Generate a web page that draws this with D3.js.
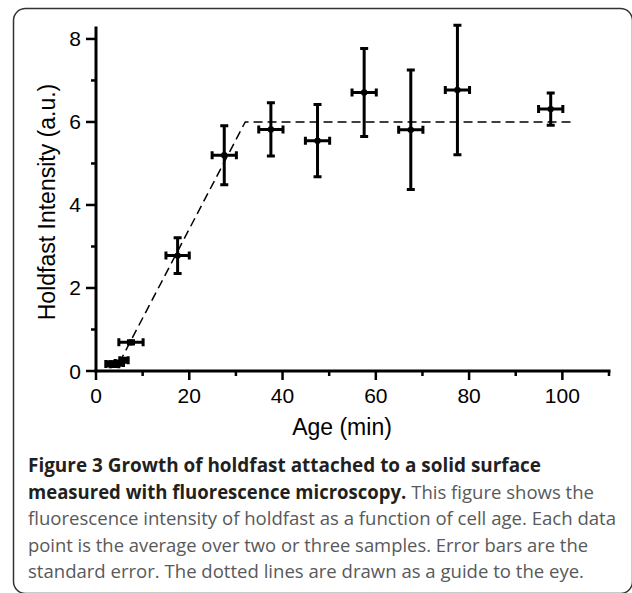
<!DOCTYPE html>
<html>
<head>
<meta charset="utf-8">
<script src="https://cdn.jsdelivr.net/npm/d3@7"></script>
<style>
  body { margin: 0; background: #fff; }
  svg { display: block; }
</style>
</head>
<body>
<script>
// age (min), intensity (a.u.), and their errors
const ages      = [3, 4, 5, 6, 7.5, 17.5, 27.5, 37.5, 47.5, 57.5, 67.5, 77.5, 97.5]
const intensity = [0.17, 0.16, 0.19, 0.26, 0.69, 2.78, 5.2, 5.82, 5.55, 6.71, 5.81, 6.77, 6.31]
const ageErr    = [0.9, 0.9, 0.9, 0.9, 2.6, 2.5, 2.6, 2.6, 2.6, 2.6, 2.6, 2.6, 2.6]
const intErr    = [0.05, 0.05, 0.05, 0.05, 0.04, 0.43, 0.71, 0.64, 0.87, 1.06, 1.44, 1.56, 0.39]

// dashed guide to the eye
const guideAge = [5, 32, 102]
const guideInt = [0.2, 6, 6]

const xTicks = [0, 20, 40, 60, 80, 100]
const xMinor = [10, 30, 50, 70, 90, 110]
const yTicks = [0, 2, 4, 6, 8]
const yMinor = [1, 3, 5, 7]

const captionLines = [
  [['Figure 3 Growth of holdfast attached to a solid surface', true]],
  [['measured with fluorescence microscopy.', true], [' This figure shows the', false]],
  [['fluorescence intensity of holdfast as a function of cell age. Each data', false]],
  [['point is the average over two or three samples. Error bars are the', false]],
  [['standard error. The dotted lines are drawn as a guide to the eye.', false]]
]
const captionEnds = [541, 594, 616, 588, 584]

const W = 632, H = 593
const svg = d3.select('body').append('svg')
  .attr('width', W)
  .attr('height', H)

// frame, cut off on the right and at the bottom
svg.append('rect')
  .attr('x', 13.5).attr('y', 8.5)
  .attr('width', 619).attr('height', 585)
  .attr('rx', 12)
  .attr('fill', 'none')
  .attr('stroke', '#333')
  .attr('stroke-width', 1.5)

const x = d3.scaleLinear().domain([0, 110]).range([96, 609])
const y = d3.scaleLinear().domain([0, 8.3]).range([371, 26.5])

const axisFont = '"Liberation Sans", Arial, sans-serif'

// axes
const gx = svg.append('g').attr('transform', 'translate(0,371)')
gx.append('line')
  .attr('x1', x(0) - 1.5).attr('x2', x(110) + 1.5)
  .attr('stroke', '#000').attr('stroke-width', 3)
gx.selectAll('line.major').data(xTicks).join('line')
  .attr('class', 'major')
  .attr('x1', d => x(d)).attr('x2', d => x(d))
  .attr('y1', 0).attr('y2', 9)
  .attr('stroke', '#000').attr('stroke-width', 2.5)
gx.selectAll('line.minor').data(xMinor).join('line')
  .attr('class', 'minor')
  .attr('x1', d => x(d)).attr('x2', d => x(d))
  .attr('y1', 0).attr('y2', 5)
  .attr('stroke', '#000').attr('stroke-width', 2.5)
gx.selectAll('text').data(xTicks).join('text')
  .attr('x', d => x(d)).attr('y', 32)
  .attr('text-anchor', 'middle')
  .attr('font-family', axisFont)
  .attr('font-size', 21)
  .text(d => d)

const gy = svg.append('g').attr('transform', 'translate(96,0)')
gy.append('line')
  .attr('y1', y(8.3)).attr('y2', y(0) + 1.5)
  .attr('stroke', '#000').attr('stroke-width', 3)
gy.selectAll('line.major').data(yTicks).join('line')
  .attr('class', 'major')
  .attr('y1', d => y(d)).attr('y2', d => y(d))
  .attr('x1', 0).attr('x2', -10)
  .attr('stroke', '#000').attr('stroke-width', 2.5)
gy.selectAll('line.minor').data(yMinor).join('line')
  .attr('class', 'minor')
  .attr('y1', d => y(d)).attr('y2', d => y(d))
  .attr('x1', 0).attr('x2', -5)
  .attr('stroke', '#000').attr('stroke-width', 2.5)
gy.selectAll('text').data(yTicks).join('text')
  .attr('x', -15).attr('y', d => y(d) + 7.5)
  .attr('text-anchor', 'end')
  .attr('font-family', axisFont)
  .attr('font-size', 21)
  .text(d => d)

svg.append('text')
  .attr('x', 342).attr('y', 435)
  .attr('text-anchor', 'middle')
  .attr('font-family', axisFont)
  .attr('font-size', 23)
  .text('Age (min)')

svg.append('text')
  .attr('transform', 'translate(55,202) rotate(-90)')
  .attr('text-anchor', 'middle')
  .attr('font-family', axisFont)
  .attr('font-size', 23)
  .text('Holdfast Intensity (a.u.)')

// guide line
const guide = guideAge.map((a, i) => [a, guideInt[i]])
svg.append('path')
  .attr('d', d3.line().x(d => x(d[0])).y(d => y(d[1]))(guide))
  .attr('fill', 'none')
  .attr('stroke', '#000')
  .attr('stroke-width', 1.5)
  .attr('stroke-dasharray', '9,5')

// error bars
const pts = ages.map((a, i) => ({ a, v: intensity[i], ea: ageErr[i], ev: intErr[i] }))
const cap = 4
function barPath (d) {
  const cx = x(d.a), cy = y(d.v)
  const t = y(d.v + d.ev), b = y(d.v - d.ev)
  const l = x(d.a - d.ea), r = x(d.a + d.ea)
  return `M ${cx} ${t} L ${cx} ${b} M ${cx - cap} ${t} l ${2 * cap} 0 M ${cx - cap} ${b} l ${2 * cap} 0` +
    ` M ${l} ${cy} L ${r} ${cy} M ${l} ${cy - cap} l 0 ${2 * cap} M ${r} ${cy - cap} l 0 ${2 * cap}`
}
const gp = svg.append('g')
gp.selectAll('path').data(pts).join('path')
  .attr('d', barPath)
  .attr('fill', 'none')
  .attr('stroke', '#000')
  .attr('stroke-width', 3)
gp.selectAll('circle').data(pts).join('circle')
  .attr('cx', d => x(d.a)).attr('cy', d => y(d.v))
  .attr('r', 3.2)
  .attr('fill', '#000')

// caption
const capFont = '"Open Sans", "Noto Sans", sans-serif'
const gc = svg.append('g')
captionLines.forEach((parts, i) => {
  const t = gc.append('text')
    .attr('x', 28).attr('y', 472 + i * 26.6)
    .attr('font-family', capFont)
    .attr('font-size', 19)
    .attr('textLength', captionEnds[i] - 28)
    .attr('lengthAdjust', 'spacingAndGlyphs')
  parts.forEach(([s, bold]) => {
    t.append('tspan')
      .attr('font-weight', bold ? 700 : 400)
      .attr('fill', bold ? '#231f20' : '#58595b')
      .text(s)
  })
})
</script>
</body>
</html>
